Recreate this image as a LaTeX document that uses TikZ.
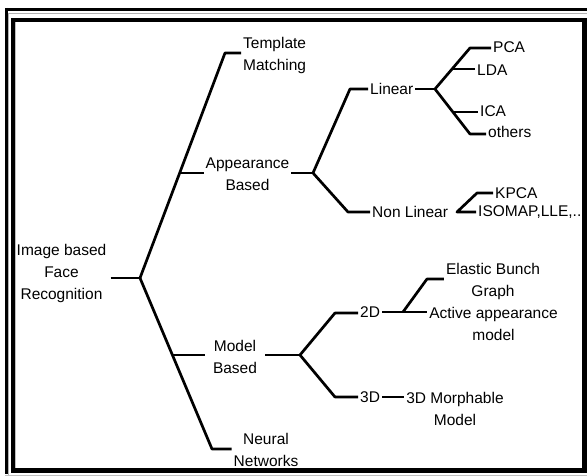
\documentclass[tikz,border=0pt]{standalone}
\usepackage{fontspec}
\setmainfont{Liberation Sans}
\begin{document}
\begin{tikzpicture}[x=1pt,y=-1pt,
  txt/.style={font=\fontsize{15.5}{22}\selectfont, inner ysep=1pt, inner xsep=2pt},
  br/.style={line width=2.7pt, line join=round},
  framethick/.style={line width=4.5pt},
  framethin/.style={line width=2.8pt}]
\useasboundingbox (0,0) rectangle (587,476);
\begin{scope}
\clip (14,22) rectangle (582,468);
% text nodes
\node[txt, align=center, inner xsep=4pt] (root) at (61.5,273.5) {Image based\\Face\\Recognition};
\node[txt, align=left, anchor=west] (tm) at (241,55.5) {Template\\Matching};
\node[txt, align=center] (ab) at (247.5,174) {Appearance\\Based};
\node[txt, align=center, inner xsep=8pt] (mb) at (235,357) {Model\\Based};
\node[txt, align=center] (nn) at (266,450) {Neural\\Networks};
\node[txt, anchor=west] (lin) at (368,89) {Linear};
\node[txt, anchor=west] (nonlin) at (370,212) {Non Linear};
\node[txt, anchor=west] (pca) at (491,47) {PCA};
\node[txt, anchor=west] (lda) at (475,70) {LDA};
\node[txt, anchor=west] (ica) at (478,111) {ICA};
\node[txt, anchor=west] (oth) at (486,132) {others};
\node[txt, anchor=west] (kpca) at (493,193) {KPCA};
\node[txt, anchor=west] (iso) at (476,212) {ISOMAP,LLE,..};
\node[txt, anchor=west] (d2) at (358,312) {2D};
\node[txt, anchor=west] (d3) at (358,397) {3D};
\node[txt, align=center] (ebg) at (493,281) {Elastic Bunch\\Graph};
\node[txt, align=center] (aam) at (493.5,323.5) {Active appearance\\model};
\node[txt, align=center] (mm) at (455,409) {3D Morphable\\Model};
% fork and corner points
\coordinate (f0) at (140,278);
\coordinate (ctm) at (225,53);
\coordinate (cnn) at (212,449);
\coordinate (jab) at (179.7,173);
\coordinate (jmb) at (172.4,355);
\coordinate (f1) at (313,173);
\coordinate (clin) at (350,89);
\coordinate (cnl) at (348,212);
\coordinate (f2) at (435,89);
\coordinate (cpca) at (470,48);
\coordinate (jlda) at (452,69);
\coordinate (coth) at (470,134);
\coordinate (jica) at (453,112);
\coordinate (f3) at (457,212);
\coordinate (ckp) at (477,193);
\coordinate (f4) at (300,355);
\coordinate (c2d) at (335,313);
\coordinate (c3d) at (335,397);
\coordinate (f5) at (403,312);
\coordinate (ceb) at (427,279);
% connectors
\draw[br] (root.east |- f0) -- (f0);
\draw[br] (f0) -- (ctm) -- (tm.west |- ctm);
\draw[br] (f0) -- (cnn) -- (nn.west |- cnn);
\draw[br] (jab) -- (ab.west |- jab);
\draw[br] (jmb) -- (mb.west |- jmb);
\draw[br] (ab.east |- f1) -- (f1);
\draw[br] (f1) -- (clin) -- (lin.west |- clin);
\draw[br] (f1) -- (cnl) -- (nonlin.west |- cnl);
\draw[br] (lin.east |- f2) -- (f2);
\draw[br] (f2) -- (cpca) -- (pca.west |- cpca);
\draw[br] (jlda) -- (lda.west |- jlda);
\draw[br] (f2) -- (coth) -- (oth.west |- coth);
\draw[br] (jica) -- (ica.west |- jica);
\draw[br] (iso.west |- f3) -- (f3) -- (ckp) -- (kpca.west |- ckp);
\draw[br] (mb.east |- f4) -- (f4);
\draw[br] (f4) -- (c2d) -- (d2.west |- c2d);
\draw[br] (f4) -- (c3d) -- (d3.west |- c3d);
\draw[br] (d2.east |- f5) -- (aam.west |- f5);
\draw[br] (f5) -- (ceb) -- (ebg.west |- ceb);
\draw[br] (d3.east |- c3d) -- (mm.west |- c3d);
\end{scope}
% frame
\draw[framethin] (5,9.5) -- (587,9.5);
\draw[framethin] (6.2,8) -- (6.2,474);
\draw[line width=0.8pt, gray!60] (8.8,13.5) -- (587,13.5);
\draw[line width=0.8pt, gray!60] (8.8,13.5) -- (8.8,475);
\draw[framethick] (12.8,19.8) rectangle (584.6,470.6);
\draw[line width=0.6pt, gray!50] (15.5,22.5) -- (15.5,467.5);
\draw[line width=0.6pt, gray!50] (5,475.3) -- (587,475.3);
\end{tikzpicture}
\end{document}
